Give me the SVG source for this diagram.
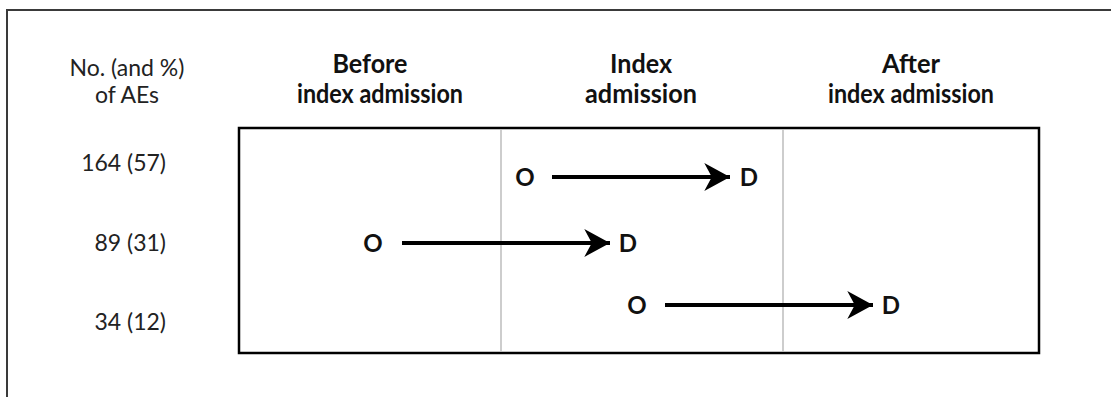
<svg xmlns="http://www.w3.org/2000/svg" width="1111" height="397" viewBox="0 0 1111 397">
<style>
.lbl{font-family:Lato,"Noto Sans","DejaVu Sans",sans-serif;font-size:23px;fill:#222}
.hdr{font-family:Lato,"Noto Sans","DejaVu Sans",sans-serif;font-size:26px;font-weight:bold;fill:#111;text-anchor:middle}
.od{font-family:Lato,"Noto Sans","DejaVu Sans",sans-serif;font-size:24px;font-weight:bold;fill:#111;text-anchor:middle}
.arrow{stroke:#000;stroke-width:4;fill:none}
.div{stroke:#bdbdbd;stroke-width:1.5}
</style>
<defs>
<marker id="ah" markerUnits="userSpaceOnUse" markerWidth="30" markerHeight="30" viewBox="-26 -14 28 28" refX="0" refY="0" orient="auto">
<path d="M0,0 L-24,-13 L-17,0 L-24,13 Z" fill="#000"/>
</marker>
</defs>
<rect width="1111" height="397" fill="#fff"/>
<polyline points="7,397 7,10 1111,10" fill="none" stroke="#3a3a3a" stroke-width="2"/>
<g id="axis-label">
<text class="lbl" x="127" y="76" text-anchor="middle">No. (and %)</text>
<text class="lbl" x="127" y="103" text-anchor="middle">of AEs</text>
</g>
<g id="header-before"><text class="hdr" x="370" y="73" textLength="75" lengthAdjust="spacingAndGlyphs">Before</text><text class="hdr" x="380" y="103" textLength="166" lengthAdjust="spacingAndGlyphs">index admission</text></g>
<g id="header-index"><text class="hdr" x="641" y="73" textLength="62" lengthAdjust="spacingAndGlyphs">Index</text><text class="hdr" x="641" y="103" textLength="112" lengthAdjust="spacingAndGlyphs">admission</text></g>
<g id="header-after"><text class="hdr" x="911" y="73" textLength="58" lengthAdjust="spacingAndGlyphs">After</text><text class="hdr" x="911" y="103" textLength="166" lengthAdjust="spacingAndGlyphs">index admission</text></g>
<g id="timeline-box">
<rect x="239" y="128" width="800" height="225" fill="none" stroke="#000" stroke-width="2.5"/>
<line class="div" x1="501" y1="129" x2="501" y2="352"/>
<line class="div" x1="783" y1="129" x2="783" y2="352"/>
</g>
<g id="row-labels">
<text class="lbl" x="166" y="171" text-anchor="end">164 (57)</text>
<text class="lbl" x="166" y="251" text-anchor="end">89 (31)</text>
<text class="lbl" x="166" y="330" text-anchor="end">34 (12)</text>
</g>
<g id="row1"><text class="od" x="525" y="186">O</text><text class="od" x="749" y="186">D</text></g>
<g id="row2"><text class="od" x="373" y="252">O</text><text class="od" x="628" y="252">D</text></g>
<g id="row3"><text class="od" x="637" y="314">O</text><text class="od" x="891" y="314">D</text></g>
<g id="connectors">
<line class="arrow" x1="552" y1="177" x2="730" y2="177" marker-end="url(#ah)"/>
<line class="arrow" x1="402" y1="243" x2="610" y2="243" marker-end="url(#ah)"/>
<line class="arrow" x1="665" y1="305" x2="873" y2="305" marker-end="url(#ah)"/>
</g>
</svg>
